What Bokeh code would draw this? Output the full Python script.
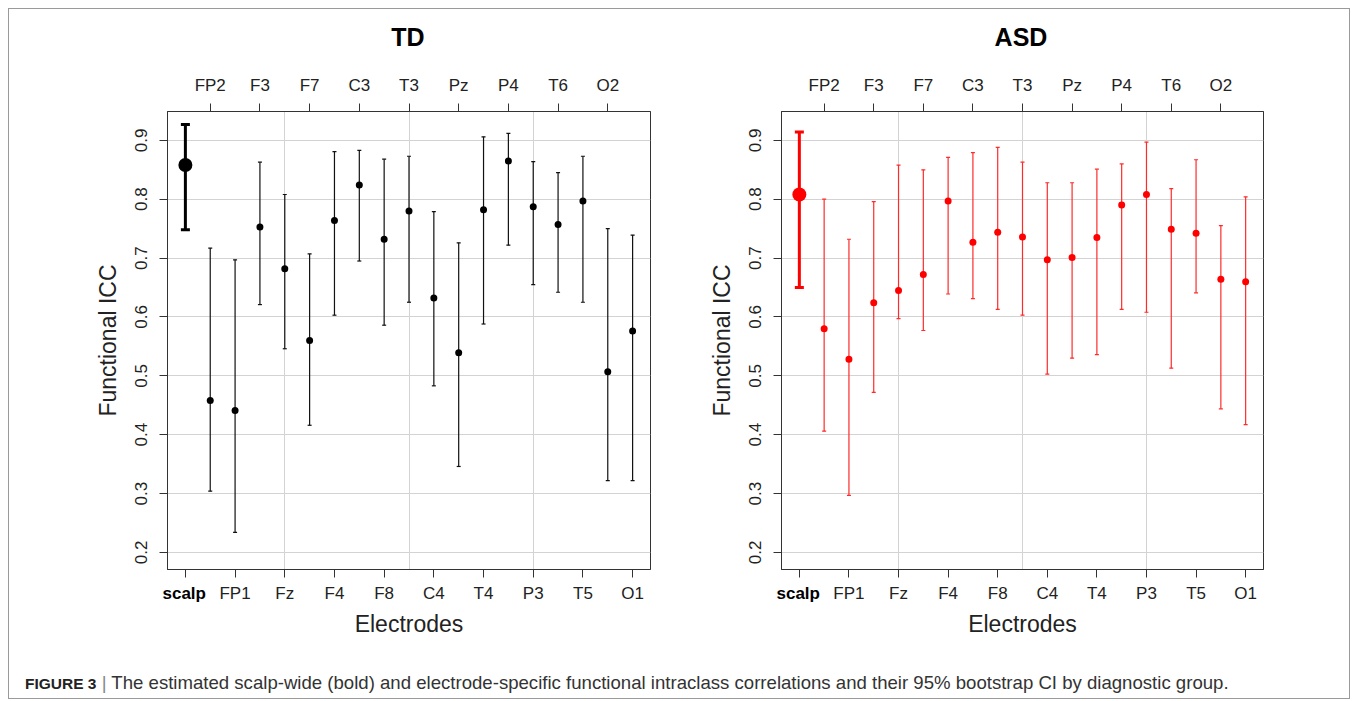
from bokeh.plotting import figure
from bokeh.models import (FixedTicker, LinearAxis, Range1d, Whisker, TeeHead,
                          ColumnDataSource, Div, Title)
from bokeh.layouts import row, column
from bokeh.embed import file_html
from bokeh.resources import INLINE

# ---------------- data ----------------
electrodes = ["scalp", "FP2", "FP1", "F3", "Fz", "F7", "F4", "C3", "F8", "T3",
              "C4", "Pz", "T4", "P4", "P3", "T6", "T5", "O2", "O1"]
positions = list(range(1, 20))

td_icc = [0.858, 0.458, 0.441, 0.753, 0.682, 0.560, 0.764, 0.824, 0.732, 0.780,
          0.632, 0.539, 0.782, 0.865, 0.787, 0.757, 0.797, 0.507, 0.576]
td_lower = [0.748, 0.304, 0.234, 0.621, 0.546, 0.416, 0.603, 0.695, 0.586, 0.625,
            0.483, 0.346, 0.588, 0.722, 0.655, 0.642, 0.625, 0.322, 0.322]
td_upper = [0.927, 0.717, 0.697, 0.863, 0.808, 0.707, 0.881, 0.883, 0.868, 0.873,
            0.779, 0.726, 0.906, 0.912, 0.864, 0.845, 0.873, 0.750, 0.739]

asd_icc = [0.808, 0.580, 0.528, 0.624, 0.645, 0.672, 0.797, 0.727, 0.744, 0.736,
           0.697, 0.701, 0.735, 0.790, 0.808, 0.749, 0.742, 0.664, 0.660]
asd_lower = [0.650, 0.406, 0.297, 0.472, 0.597, 0.577, 0.639, 0.631, 0.613, 0.603,
             0.503, 0.530, 0.536, 0.613, 0.608, 0.513, 0.641, 0.444, 0.417]
asd_upper = [0.914, 0.800, 0.732, 0.796, 0.858, 0.850, 0.871, 0.879, 0.888, 0.863,
             0.828, 0.828, 0.851, 0.860, 0.897, 0.818, 0.867, 0.755, 0.804]

y_ticks = [0.2, 0.3, 0.4, 0.5, 0.6, 0.7, 0.8, 0.9]
x_grid = [5, 10, 15]

panel_titles = ["TD", "ASD"]
caption_bold = "FIGURE 3"
caption_text = ("The estimated scalp-wide (bold) and electrode-specific functional "
                "intraclass correlations and their 95% bootstrap CI by diagnostic group.")

FONT = "Liberation Sans"
AXIS_COL = "#333333"
TEXT_COL = "#222222"
GRID_COL = "#d3d3d3"
Y0, Y1 = 0.171, 0.949
FRAME_W = 482


def make_panel(icc, lower, upper, color, line_color, width, ml, mr):
    p = figure(width=width, height=593,
               x_range=Range1d(0.28, 19.72), y_range=Range1d(Y0, Y1),
               output_backend="svg", toolbar_location=None,
               min_border_left=ml, min_border_right=mr,
               min_border_top=59, min_border_bottom=76)
    p.title.visible = False
    p.background_fill_color = "white"
    p.border_fill_color = "white"
    p.outline_line_color = AXIS_COL
    p.outline_line_width = 1

    # bottom axis (odd positions); "scalp" is drawn bold separately
    bottom = {pos: ("" if name == "scalp" else name)
              for pos, name in zip(positions, electrodes) if pos % 2 == 1}
    xa = p.xaxis[0]
    xa.ticker = FixedTicker(ticks=[k for k in bottom])
    xa.major_label_overrides = bottom
    xa.axis_label = "Electrodes"

    # top axis (even positions)
    top = {pos: name for pos, name in zip(positions, electrodes) if pos % 2 == 0}
    ta = LinearAxis(ticker=FixedTicker(ticks=[k for k in top]),
                    major_label_overrides=top)
    p.add_layout(ta, "above")

    ya = p.yaxis[0]
    ya.ticker = FixedTicker(ticks=y_ticks)
    ya.axis_label = "Functional ICC"
    ya.major_label_orientation = "vertical"

    for ax in (xa, ta, ya):
        ax.axis_line_color = AXIS_COL
        ax.major_tick_line_color = AXIS_COL
        ax.major_tick_out = 8
        ax.major_tick_in = 0
        ax.minor_tick_line_color = None
        ax.major_label_text_font = FONT
        ax.major_label_text_font_size = "17px"
        ax.major_label_text_color = TEXT_COL
        ax.major_label_standoff = 9
        ax.axis_label_text_font = FONT
        ax.axis_label_text_font_size = "23px"
        ax.axis_label_text_font_style = "normal"
        ax.axis_label_text_color = TEXT_COL
    xa.major_label_standoff = 6
    xa.axis_label_standoff = 5
    ya.axis_label_standoff = 12
    ya.major_label_standoff = 12

    p.xgrid.ticker = FixedTicker(ticks=x_grid)
    p.ygrid.ticker = FixedTicker(ticks=y_ticks)
    p.xgrid.grid_line_color = GRID_COL
    p.ygrid.grid_line_color = GRID_COL

    # bold "scalp" tick label (pulled up to the tick-label row)
    st = Title(text=electrodes[0], align="left", offset=-5, vertical_align="top",
               standoff=-112, text_font=FONT, text_font_size="17px",
               text_font_style="bold", text_color="black")
    p.add_layout(st, "below")

    # electrodes (positions 2..19)
    src = ColumnDataSource(dict(x=positions[1:], y=icc[1:],
                                lo=lower[1:], hi=upper[1:]))
    p.add_layout(Whisker(source=src, base="x", lower="lo", upper="hi",
                         line_color=line_color, line_width=1.2,
                         upper_head=TeeHead(size=4, line_color=line_color, line_width=1.2),
                         lower_head=TeeHead(size=4, line_color=line_color, line_width=1.2)))
    p.scatter("x", "y", source=src, size=7, color=color, line_color=None)

    # scalp-wide
    ssrc = ColumnDataSource(dict(x=positions[:1], y=icc[:1], lo=lower[:1], hi=upper[:1]))
    p.add_layout(Whisker(source=ssrc, base="x", lower="lo", upper="hi",
                         line_color=color, line_width=3,
                         upper_head=TeeHead(size=9, line_color=color, line_width=3),
                         lower_head=TeeHead(size=9, line_color=color, line_width=3)))
    p.scatter("x", "y", source=ssrc, size=14, color=color, line_color=None)
    return p


p1 = make_panel(td_icc, td_lower, td_upper, "black", "#111111", 672, 158, 31)
p2 = make_panel(asd_icc, asd_lower, asd_upper, "#ff0000", "#ff2a2a", 668, 100, 86)

title_style = {"font-family": FONT, "font-size": "25px", "font-weight": "bold",
               "color": "black", "text-align": "center", "line-height": "29px"}
t1 = Div(text=panel_titles[0], width=FRAME_W, height=29, margin=(14, 0, 0, 158),
         styles=title_style)
t2 = Div(text=panel_titles[1], width=FRAME_W, height=29, margin=(14, 0, 0, 131),
         styles=title_style)

cap = Div(text=(f'<b style="color:#222;font-size:15.5px">{caption_bold}</b>'
                f' <span style="color:#888">|</span> {caption_text}'),
          width=1310, height=28, margin=(25, 0, 0, 16),
          styles={"font-family": FONT, "font-size": "18.6px", "color": "#333333",
                  "white-space": "nowrap"})

layout = column(row(t1, t2), row(p1, p2), cap, margin=(8, 8, 0, 8),
                styles={"border": "1px solid #9a9a9a"})

open("out.html", "w").write(file_html(layout, INLINE))
